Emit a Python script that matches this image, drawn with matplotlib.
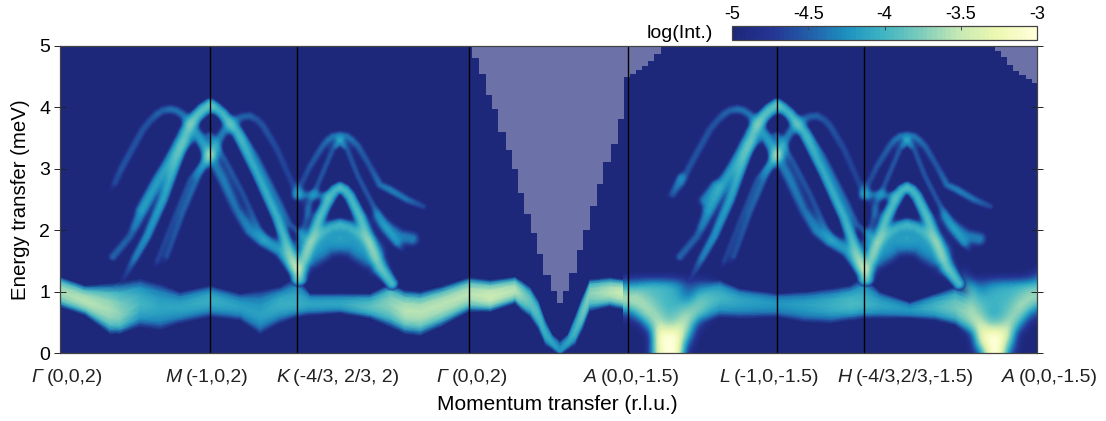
import numpy as np
import matplotlib
matplotlib.use('Agg')
import matplotlib.pyplot as plt
from matplotlib.colors import LinearSegmentedColormap, Normalize
from matplotlib.cm import ScalarMappable

plt.rcParams.update({
    'font.family': 'Liberation Sans',
    'font.size':   14,
})

# ── Path and labels ─────────────────────────────────────────────────────────
tick_q = [0, 150, 237, 409, 568, 717, 804, 977]
label_sym = ['Γ', 'M', 'K', 'Γ', 'A', 'L', 'H', 'A']
label_rest = ['(0,0,2)', '(-1,0,2)', '(-4/3, 2/3, 2)', '(0,0,2)', '(0,0,-1.5)',
              '(-1,0,-1.5)', '(-4/3,2/3,-1.5)', '(0,0,-1.5)']
label_q = [-13, 126, 233, 392, 541, 674, 796, 959]
yticks = [0, 1, 2, 3, 4, 5]
cbar_ticks = [-5, -4.5, -4, -3.5, -3]

# ── Low energy band: edges, centre and peak log intensity ───────────────────
low_q   = [0, 25, 50, 60, 80, 100, 120, 150, 180, 200, 220, 237, 250, 280, 310, 330, 345, 360, 380,
           409, 430, 455, 462, 470, 478, 485, 492, 500, 508, 515, 522, 530, 550, 568,
           645, 660, 680, 717, 745, 770, 790, 804, 820, 850, 875, 895, 918]
low_top = [1.24, 1.10, 1.13, 1.16, 1.21, 1.13, 1.00, 1.10, 0.97, 1.02, 1.08, 1.25, 0.97, 0.97, 0.97, 1.13, 1.02, 1.00, 1.08,
           1.23, 1.19, 1.24, 1.17, 1.08, 0.87, 0.55, 0.31, 0.20, 0.31, 0.60, 0.90, 1.20, 1.23, 1.19,
           1.17, 1.19, 1.05, 0.97, 1.00, 1.05, 1.10, 1.25, 1.00, 0.83, 0.97, 1.08, 0.92]
low_mid = [1.00, 0.85, 0.70, 0.64, 0.80, 0.75, 0.75, 0.86, 0.75, 0.64, 0.80, 0.80, 0.80, 0.80, 0.75, 0.80, 0.69, 0.67, 0.78,
           0.96, 0.92, 1.02, 0.94, 0.83, 0.62, 0.32, 0.17, 0.03, 0.17, 0.35, 0.62, 0.97, 0.99, 0.97,
           0.82, 0.90, 0.85, 0.80, 0.78, 0.78, 0.80, 0.80, 0.78, 0.70, 0.75, 0.75, 0.55]
low_bot = [0.75, 0.61, 0.31, 0.31, 0.42, 0.37, 0.48, 0.58, 0.53, 0.30, 0.48, 0.58, 0.61, 0.64, 0.56, 0.42, 0.31, 0.28, 0.42,
           0.67, 0.67, 0.80, 0.68, 0.58, 0.38, 0.12, 0.05, -0.05, 0.05, 0.12, 0.35, 0.68, 0.75, 0.69,
           0.50, 0.58, 0.56, 0.58, 0.50, 0.48, 0.53, 0.56, 0.56, 0.56, 0.53, 0.45, 0.20]
low_lev = [-3.60, -3.55, -3.60, -3.70, -4.00, -4.10, -4.10, -4.05, -4.15, -4.15, -4.05, -4.05, -4.10, -4.10, -3.90, -3.70, -3.55, -3.55, -3.55,
           -3.55, -3.45, -3.55, -3.70, -3.85, -3.95, -4.05, -4.10, -4.20, -4.10, -4.00, -3.85, -3.70, -3.55, -3.40,
           -3.85, -4.00, -4.10, -4.20, -4.15, -4.05, -3.95, -4.00, -4.10, -4.20, -4.00, -3.80, -3.55]

# ── Log intensity read on a 10 px grid around the two A points ──────────────
a_energy = [1.43, 1.27, 1.11, 0.945, 0.78, 0.62, 0.456, 0.293, 0.13, -0.03]
a1_q = [568, 578, 588, 598, 608, 618, 628, 638, 648, 658]
a1_map = [
    [-5.0, -5.0, -5.0, -5.0, -5.0, -5.0, -5.0, -5.0, -5.0, -5.0],
    [-5.0, -5.0, -5.0, -5.0, -5.0, -5.0, -5.0, -5.0, -5.0, -5.0],
    [-4.2, -4.1, -3.95, -3.95, -4.0, -4.15, -4.6, -4.5, -4.35, -4.2],
    [-3.55, -3.6, -3.85, -3.95, -4.0, -4.1, -4.5, -3.95, -3.9, -4.0],
    [-3.7, -3.55, -3.6, -3.85, -4.0, -4.0, -3.95, -3.7, -3.85, -4.05],
    [-4.7, -4.0, -3.55, -3.65, -3.95, -3.8, -3.55, -3.75, -4.2, -4.6],
    [-5.0, -5.0, -4.1, -3.4, -3.7, -3.5, -3.5, -4.6, -5.0, -5.0],
    [-5.0, -5.0, -5.0, -3.1, -3.0, -3.05, -3.9, -5.0, -5.0, -5.0],
    [-5.0, -5.0, -5.0, -3.1, -3.0, -3.0, -4.6, -5.0, -5.0, -5.0],
    [-5.0, -5.0, -5.0, -3.2, -3.0, -3.0, -5.0, -5.0, -5.0, -5.0],
]
a2_q = [900, 910, 920, 930, 940, 950, 960, 970, 980]
a2_map = [
    [-5.0, -5.0, -5.0, -5.0, -5.0, -5.0, -5.0, -5.0, -5.0],
    [-3.95, -5.0, -5.0, -5.0, -5.0, -5.0, -5.0, -4.9, -4.5],
    [-3.9, -3.95, -4.5, -4.2, -4.1, -4.05, -4.0, -3.95, -3.9],
    [-4.2, -3.75, -4.1, -4.05, -4.0, -4.0, -3.85, -3.6, -3.55],
    [-3.85, -3.6, -3.9, -4.0, -4.0, -3.9, -3.55, -3.65, -4.1],
    [-3.75, -3.55, -3.65, -4.1, -4.05, -3.7, -3.6, -4.4, -4.8],
    [-4.4, -3.7, -3.35, -3.7, -3.7, -3.45, -4.2, -5.0, -5.0],
    [-5.0, -4.8, -3.2, -3.0, -3.0, -3.5, -5.0, -5.0, -5.0],
    [-5.0, -5.0, -3.6, -3.0, -3.0, -4.0, -5.0, -5.0, -5.0],
    [-5.0, -5.0, -4.6, -3.0, -3.0, -4.6, -5.0, -5.0, -5.0],
]
a1_fade = [1, 1, 1, 1, 1, 1, 1, 1, 0.6, 0]
a2_fade = [0, 1, 1, 1, 1, 1, 1, 1, 1]

# ── Dispersive branches around M and K (the L, H side repeats them) ─────────
outer_q   = [47, 55, 62, 70, 83, 90, 97, 103, 110, 116, 122, 127, 132, 140, 150]
outer_e   = [2.55, 2.77, 3.02, 3.26, 3.64, 3.78, 3.89, 3.95, 3.97, 3.95, 3.89, 3.80, 3.70, 3.50, 3.20]
outer_lev = [-5.0, -4.55, -4.5, -4.5, -4.5, -4.5, -4.45, -4.45, -4.4, -4.4, -4.4, -4.4, -4.45, -4.45, -4.4]

main_q   = [63, 75, 87, 103, 118, 130, 137, 142, 150, 157, 163, 177, 197, 217, 235, 241]
main_e   = [1.19, 1.55, 1.90, 2.50, 3.20, 3.70, 3.87, 3.97, 4.05, 3.98, 3.89, 3.59, 2.93, 2.22, 1.40, 1.20]
main_lev = [-4.7, -4.35, -4.25, -4.15, -4.05, -4.05, -4.1, -4.1, -4.05, -4.05, -4.0, -4.05, -4.1, -4.05, -3.9, -4.2]

second_q   = [50, 53, 70, 87, 107, 123, 137, 150]
second_e   = [1.50, 1.57, 1.90, 2.44, 3.04, 3.59, 3.86, 4.00]
second_lev = [-5.0, -4.45, -4.45, -4.4, -4.4, -4.35, -4.35, -4.3]

back_q   = [150, 163, 170, 177, 183, 190, 197, 203, 217, 235, 250]
back_e   = [3.22, 3.59, 3.73, 3.81, 3.85, 3.86, 3.80, 3.70, 3.32, 2.66, 2.25]
back_lev = [-4.4, -4.35, -4.4, -4.45, -4.45, -4.45, -4.5, -4.5, -4.55, -4.6, -5.0]

fall_q   = [150, 163, 177, 190, 203, 220, 237]
fall_e   = [3.23, 2.83, 2.33, 2.00, 1.84, 1.68, 1.40]
fall_lev = [-4.35, -4.35, -4.4, -4.3, -4.2, -4.2, -4.0]

fall2_q   = [150, 167, 183, 197, 205]
fall2_e   = [3.55, 3.10, 2.60, 2.10, 1.85]
fall2_lev = [-4.5, -4.55, -4.55, -4.55, -5.0]

fall3_q   = [178, 183, 197, 217, 230, 243]
fall3_e   = [3.70, 3.54, 3.20, 2.55, 2.10, 1.90]
fall3_lev = [-5.0, -4.6, -4.55, -4.5, -4.5, -4.6]

fan1_q   = [92, 97, 113, 130, 150]
fan1_e   = [1.30, 1.50, 2.17, 2.83, 3.23]
fan1_lev = [-5.0, -4.6, -4.6, -4.55, -4.5]

fan2_q   = [103, 107, 123, 140, 150]
fan2_e   = [1.40, 1.57, 2.28, 2.93, 3.23]
fan2_lev = [-5.0, -4.55, -4.5, -4.45, -4.4]

fan3_q   = [75, 80, 97, 120, 137, 150]
fan3_e   = [2.10, 2.33, 2.83, 3.37, 3.54, 3.30]
fan3_lev = [-5.0, -4.5, -4.5, -4.55, -4.55, -4.45]

arc_a_q   = [237, 250, 263, 268, 273, 280, 287, 292, 298, 310, 320, 330, 347, 363, 370]
arc_a_e   = [2.60, 3.04, 3.38, 3.47, 3.53, 3.55, 3.53, 3.47, 3.37, 3.04, 2.74, 2.66, 2.50, 2.39, 2.36]
arc_a_lev = [-4.6, -4.5, -4.45, -4.4, -4.4, -4.4, -4.4, -4.4, -4.45, -4.5, -4.4, -4.35, -4.4, -4.55, -5.0]

arc_b_q   = [240, 250, 260, 273, 280, 287, 298, 310, 323, 337, 345]
arc_b_e   = [1.80, 2.44, 2.83, 3.32, 3.45, 3.32, 2.88, 2.50, 2.11, 1.79, 1.60]
arc_b_lev = [-4.6, -4.55, -4.5, -4.5, -4.2, -4.5, -4.5, -4.5, -4.5, -4.5, -5.0]

arc_c_q   = [237, 240, 250, 260, 270, 275, 280, 285, 290, 300, 310, 320, 332]
arc_c_e   = [1.20, 1.35, 1.79, 2.22, 2.55, 2.65, 2.69, 2.65, 2.55, 2.22, 1.79, 1.40, 1.13]
arc_c_lev = [-4.1, -4.05, -4.0, -3.95, -4.0, -4.0, -3.95, -4.0, -4.0, -3.95, -4.0, -3.95, -4.0]

ridge_q   = [245, 250, 263, 272, 280, 288, 297, 310, 315]
ridge_e   = [1.55, 1.79, 1.98, 2.06, 2.09, 2.06, 1.98, 1.79, 1.55]
ridge_lev = [-4.6, -4.3, -4.25, -4.25, -4.2, -4.25, -4.25, -4.3, -4.6]

flat_q   = [230, 240, 253, 265, 272]
flat_e   = [2.50, 2.58, 2.58, 2.55, 2.50]
flat_lev = [-5.0, -4.5, -4.5, -4.5, -5.0]

tail_q   = [318, 327, 340, 352, 362]
tail_e   = [2.20, 2.06, 1.90, 1.86, 1.84]
tail_lev = [-4.6, -4.45, -4.35, -4.35, -5.0]

# Only on the L side
l_tail_q   = [604, 612, 620]
l_tail_e   = [2.52, 2.60, 2.85]
l_tail_lev = [-5.0, -4.6, -4.5]
l_blob_q   = [633, 644, 655]
l_blob_e   = [2.45, 2.50, 2.72]
l_blob_lev = [-5.0, -4.4, -4.4]

# Dome below the K arcs
dome_q   = [243, 250, 258, 267, 280, 293, 302, 310, 317]
dome_e   = [1.45, 1.62, 1.72, 1.83, 1.87, 1.83, 1.72, 1.62, 1.45]
dome_lev = [-4.5, -4.25, -4.2, -4.2, -4.15, -4.2, -4.2, -4.25, -4.5]

# ── Kinematic limits (no data): step edges and lower energy ─────────────────
mask1_edges = [412, 419, 426, 432, 438, 446, 452, 458, 464, 471, 477, 483, 491, 497, 503,
               509, 517, 523, 530, 537, 543, 551, 558, 564, 570, 576, 582, 588, 594, 600.7]
mask1_e = [4.80, 4.55, 4.20, 3.97, 3.60, 3.31, 3.00, 2.60, 2.26, 1.96, 1.61, 1.27, 1.01, 0.81,
           1.01, 1.31, 1.67, 2.00, 2.40, 2.76, 3.11, 3.40, 3.81, 4.50, 4.55, 4.61, 4.67, 4.76, 4.87]
mask2_edges = [935, 941, 947, 953, 959, 966, 972, 977]
mask2_e = [4.92, 4.82, 4.69, 4.60, 4.53, 4.47, 4.40]

# ── Colours ─────────────────────────────────────────────────────────────────
NAVY = '#1d287b'
cmap = LinearSegmentedColormap.from_list(
    'ylgnbu_r', [NAVY, '#253494', '#225ea8', '#1d91c0', '#41b6c4',
                 '#7fcdbb', '#c7e9b4', '#edf8b1', '#ffffd9'], N=64)
norm = Normalize(-5, -3)
FRAME = '#444444'
PX_PER_MEV = 61.4

fig = plt.figure(figsize=(11.06, 4.21), dpi=100)
ax = fig.add_axes([60 / 1106, 68 / 421, 977 / 1106, 307 / 421], facecolor=NAVY)


def draw_low(q, top, mid, bot, lev):
    # smooth mesh across the band, levels walk down the colormap to the edges
    q, top, mid, bot, lev = [np.asarray(a, float) for a in (q, top, mid, bot, lev)]
    fr = np.array([0, 0.45, 0.75, 0.93, 1, 0.93, 0.75, 0.45, 0])
    pos = np.array([1, 0.85, 0.65, 0.35, 0, -0.35, -0.65, -0.85, -1])
    X = np.tile(q, (len(fr), 1))
    Y = np.array([mid + p * (top - mid) if p > 0 else mid + p * (mid - bot) for p in pos])
    C = np.array([-5 + f * (lev + 5) for f in fr])
    ax.pcolormesh(X, Y, C, shading='gouraud', cmap=cmap, norm=norm, zorder=1)


def draw_map(q, energy, levels, fade):
    step_q = (q[1] - q[0]) / 2
    step_e = (energy[0] - energy[1]) / 2
    alpha = np.tile(np.asarray(fade, float), (len(energy), 1))
    ax.imshow(levels, extent=[q[0] - step_q, q[-1] + step_q, energy[-1] - step_e, energy[0] + step_e],
              cmap=cmap, norm=norm, aspect='auto', interpolation='bicubic',
              interpolation_stage='data', alpha=alpha, zorder=1.5)


def add_branch(grid_q, grid_y, total, q, e, lev, half, dq=0):
    # broaden a branch across the pixel grid, crossings add up in intensity
    q = np.asarray(q, float) + dq
    y = np.asarray(e, float) * PX_PER_MEV
    lev = np.asarray(lev, float)
    sigma = half / 2.2
    best = np.zeros_like(total)
    for i in range(len(q) - 1):
        sx, sy = q[i + 1] - q[i], y[i + 1] - y[i]
        t = ((grid_q - q[i]) * sx + (grid_y - y[i]) * sy) / (sx * sx + sy * sy)
        t = np.clip(t, 0, 1)
        d2 = (grid_q - q[i] - t * sx) ** 2 + (grid_y - y[i] - t * sy) ** 2
        peak = 10.0 ** (lev[i] + t * (lev[i + 1] - lev[i]))
        best = np.maximum(best, peak * np.exp(-d2 / (2 * sigma * sigma)))
    total += best


draw_low(low_q, low_top, low_mid, low_bot, low_lev)
draw_map(a1_q, a_energy, a1_map, a1_fade)
draw_map(a2_q, a_energy, a2_map, a2_fade)

branches = [
    (dome_q, dome_e, dome_lev, 24),
    (fan1_q, fan1_e, fan1_lev, 7),
    (fan2_q, fan2_e, fan2_lev, 7),
    (fan3_q, fan3_e, fan3_lev, 10),
    (fall2_q, fall2_e, fall2_lev, 7),
    (fall3_q, fall3_e, fall3_lev, 7),
    (outer_q, outer_e, outer_lev, 9),
    (second_q, second_e, second_lev, 9),
    (back_q, back_e, back_lev, 9),
    (fall_q, fall_e, fall_lev, 11),
    (main_q, main_e, main_lev, 8),
    (arc_a_q, arc_a_e, arc_a_lev, 8),
    (arc_b_q, arc_b_e, arc_b_lev, 7),
    (flat_q, flat_e, flat_lev, 8),
    (tail_q, tail_e, tail_lev, 13),
    (ridge_q, ridge_e, ridge_lev, 8),
    (arc_c_q, arc_c_e, arc_c_lev, 8),
]
grid_q, grid_y = np.meshgrid(np.arange(0.5, 977), np.arange(0.5, 307))
total = np.zeros_like(grid_q)
for dq in (0, 567):
    for bq, be, blev, half in branches:
        add_branch(grid_q, grid_y, total, bq, be, blev, half, dq)
add_branch(grid_q, grid_y, total, l_tail_q, l_tail_e, l_tail_lev, 8)
add_branch(grid_q, grid_y, total, l_blob_q, l_blob_e, l_blob_lev, 10)

branch_log = np.log10(total + 1e-9)
ax.imshow(branch_log, extent=[0, 977, 0, 307 / PX_PER_MEV], origin='lower', cmap=cmap, norm=norm,
          aspect='auto', interpolation='bilinear', alpha=np.clip((branch_log + 5) / 0.6, 0, 1), zorder=2)

ax.stairs(mask1_e, mask1_edges, baseline=5, fill=True, color='#6c72a8', lw=0, zorder=3)
ax.stairs(mask2_e, mask2_edges, baseline=5, fill=True, color='#6c72a8', lw=0, zorder=3)

for q in tick_q[1:-1]:
    ax.axvline(q, color='black', lw=1.0, zorder=4)

ax.set_xlim(0, 977)
ax.set_ylim(0, 5)
ax.set_xticks([])
ax.set_yticks(yticks)
ax.tick_params(axis='y', which='major', direction='inout', length=8, width=0.7, color='#222222',
               left=True, right=True, labelsize=14, pad=3)
for sp in ax.spines.values():
    sp.set_color(FRAME)
    sp.set_linewidth(0.9)
    sp.set_zorder(5)

label_y = -24 / PX_PER_MEV
for q, sym, rest in zip(label_q, label_sym, label_rest):
    ax.text(q - 4, label_y, sym, ha='right', va='center', style='italic', color='#222222', clip_on=False)
    ax.text(q, label_y, rest, ha='left', va='center', color='#222222', clip_on=False)

ax.set_ylabel('Energy transfer (meV)', fontsize=14.7, labelpad=7)
ax.text(497, -52 / PX_PER_MEV, 'Momentum transfer (r.l.u.)', ha='center', va='center', fontsize=15)

# ── Colorbar ────────────────────────────────────────────────────────────────
cax = fig.add_axes([732 / 1106, (421 - 40) / 421, 305 / 1106, 14 / 421])
cb = fig.colorbar(ScalarMappable(norm=norm, cmap=cmap), cax=cax, orientation='horizontal')
cb.set_ticks(cbar_ticks)
cb.set_ticklabels(['-5', '-4.5', '-4', '-3.5', '-3'])
cax.xaxis.set_ticks_position('top')
cax.tick_params(direction='in', length=3, width=0.7, labelsize=13, pad=2, color=FRAME)
cb.outline.set_edgecolor(FRAME)
cb.outline.set_linewidth(0.9)
fig.text(713 / 1106, 1 - 33 / 421, 'log(Int.)', ha='right', va='center', fontsize=14)

fig.savefig('out.png', dpi=100, facecolor='white')
